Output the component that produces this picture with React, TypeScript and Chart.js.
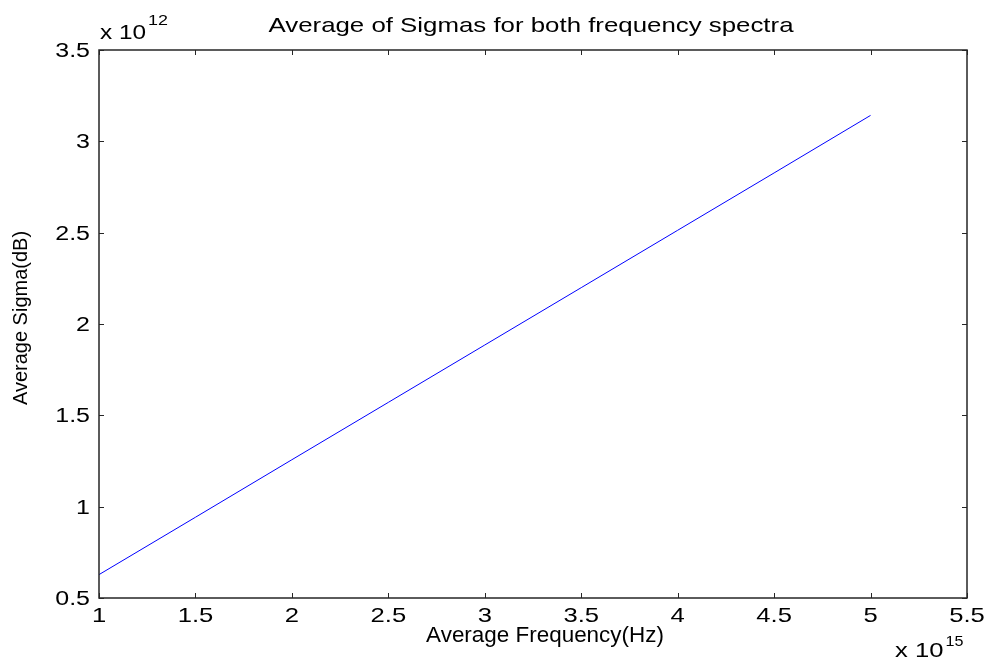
import React, { useEffect, useRef } from "react";
import { Chart, registerables } from "chart.js";

Chart.register(...registerables);

const frequency = [1, 1.5, 2, 2.5, 3, 3.5, 4, 4.5, 5]; // x 10^15 Hz
const sigma = [0.628, 0.942, 1.257, 1.571, 1.885, 2.199, 2.513, 2.827, 3.142]; // x 10^12
const xTicks = [1, 1.5, 2, 2.5, 3, 3.5, 4, 4.5, 5, 5.5];
const yTicks = [0.5, 1, 1.5, 2, 2.5, 3, 3.5];
const titleText = "Average of Sigmas for both frequency spectra";
const xLabel = "Average Frequency(Hz)";
const yLabel = "Average Sigma(dB)";
const xExp = "15";
const yExp = "12";

const FONT = "Arial, 'Liberation Sans', Helvetica, sans-serif";

// draw text horizontally stretched by factor sx
function drawText(ctx: any, text: string, x: number, y: number, size: number, sx: number, align: "left" | "center" | "right") {
  ctx.save();
  ctx.font = `${size}px ${FONT}`;
  ctx.textBaseline = "alphabetic";
  ctx.textAlign = "left";
  const w = ctx.measureText(text).width * sx;
  let x0 = x;
  if (align === "center") x0 = x - w / 2;
  else if (align === "right") x0 = x - w;
  ctx.translate(x0, y);
  ctx.scale(sx, 1);
  ctx.fillText(text, 0, 0);
  ctx.restore();
  return w;
}

const matlabPlugin = {
  id: "matlabBox",
  afterDraw(chart: any) {
    const ctx = chart.ctx;
    const { left, right, top, bottom } = chart.chartArea;
    const xs = chart.scales.x;
    const ys = chart.scales.y;
    ctx.save();
    // box
    ctx.strokeStyle = "#262626";
    ctx.lineWidth = 1.5;
    ctx.strokeRect(left, top, right - left, bottom - top);
    // inward ticks
    ctx.lineWidth = 1;
    const tl = 5;
    ctx.beginPath();
    xTicks.forEach((t) => {
      const px = Math.round(xs.getPixelForValue(t)) + 0.5;
      ctx.moveTo(px, bottom);
      ctx.lineTo(px, bottom - tl);
      ctx.moveTo(px, top);
      ctx.lineTo(px, top + tl);
    });
    yTicks.forEach((t) => {
      const py = Math.round(ys.getPixelForValue(t)) + 0.5;
      ctx.moveTo(left, py);
      ctx.lineTo(left + tl, py);
      ctx.moveTo(right, py);
      ctx.lineTo(right - tl, py);
    });
    ctx.stroke();

    ctx.fillStyle = "#000";
    // tick labels
    xTicks.forEach((t) => {
      drawText(ctx, String(t), xs.getPixelForValue(t), bottom + 24, 21, 1.22, "center");
    });
    yTicks.forEach((t) => {
      drawText(ctx, String(t), left - 9, ys.getPixelForValue(t) + 7, 20, 1.25, "right");
    });

    // title
    drawText(ctx, titleText, 531, 32, 21, 1.23, "center");
    // x label
    drawText(ctx, xLabel, 545, 642, 22, 1.02, "center");
    // y label (rotated, compressed)
    ctx.save();
    ctx.translate(27, 318);
    ctx.rotate(-Math.PI / 2);
    drawText(ctx, yLabel, 0, 0, 20, 1.0, "center");
    ctx.restore();

    // exponent labels
    const w1 = drawText(ctx, "x 10", left + 1, 39, 21, 1.16, "left");
    drawText(ctx, yExp, left + 1 + w1 + 2, 25, 14, 1.28, "left");
    const w2 = drawText(ctx, "x 10", 895, 657, 21, 1.22, "left");
    drawText(ctx, xExp, 895 + w2 + 2, 646, 14, 1.15, "left");
    ctx.restore();
  },
};

export default function App() {
  const ref = useRef<HTMLCanvasElement | null>(null);
  useEffect(() => {
    document.body.style.margin = "0";
    const canvas = ref.current!;
    const chart = new Chart(canvas, {
      type: "line",
      data: {
        datasets: [
          {
            data: frequency.map((f, i) => ({ x: f, y: sigma[i] })),
            borderColor: "#0000ff",
            borderWidth: 1,
            pointRadius: 0,
            fill: false,
            tension: 0,
          },
        ],
      },
      options: {
        responsive: false,
        animation: false,
        devicePixelRatio: 1,
        layout: { padding: { left: 0, right: 20, top: 50, bottom: 0 } },
        plugins: { legend: { display: false }, tooltip: { enabled: false }, title: { display: false } },
        scales: {
          x: {
            type: "linear",
            min: 1,
            max: 5.5,
            afterBuildTicks: (s: any) => {
              s.ticks = xTicks.map((v) => ({ value: v }));
            },
            afterFit: (s: any) => {
              s.height = 63;
            },
            grid: { display: false, drawTicks: false },
            border: { display: false },
            ticks: { display: false },
          },
          y: {
            type: "linear",
            min: 0.5,
            max: 3.5,
            afterBuildTicks: (s: any) => {
              s.ticks = yTicks.map((v) => ({ value: v }));
            },
            afterFit: (s: any) => {
              s.width = 99;
            },
            grid: { display: false, drawTicks: false },
            border: { display: false },
            ticks: { display: false },
          },
        },
      },
      plugins: [matlabPlugin],
    });
    return () => chart.destroy();
  }, []);
  return (
    <div style={{ width: 987, height: 661, background: "#fff" }}>
      <canvas ref={ref} width={987} height={661} style={{ display: "block" }} />
    </div>
  );
}
